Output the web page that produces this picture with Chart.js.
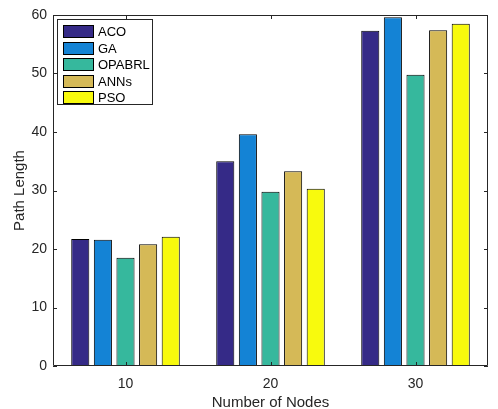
<!DOCTYPE html>
<html>
<head>
<meta charset="utf-8">
<script src="https://cdn.jsdelivr.net/npm/chart.js@4.4.4/dist/chart.umd.min.js"></script>
<style>
  html, body { margin: 0; padding: 0; background: #fff; }
  #wrap { width: 498px; height: 409px; }
</style>
</head>
<body>
<div id="wrap"><canvas id="c" width="498" height="409"></canvas></div>
<script>
// values
const nodes = ['10', '20', '30'];
const methods = ['ACO', 'GA', 'OPABRL', 'ANNs', 'PSO'];
const aco = [21.7, 35.0, 57.3];
const ga = [21.6, 39.6, 59.6];
const opabrl = [18.5, 29.8, 49.8];
const anns = [20.8, 33.3, 57.4];
const pso = [22.1, 30.3, 58.5];
const yTicks = [0, 10, 20, 30, 40, 50, 60];

const colors = ['#352a87', '#1483d5', '#36b89d', '#d5b957', '#f8fa0d'];
const series = [aco, ga, opabrl, anns, pso];
const FONT = "'Liberation Sans', Arial, sans-serif";

// MATLAB-ish box: top/right edges, inward ticks, legend drawn inside the axes
const boxPlugin = {
  id: 'box',
  afterDraw(chart) {
    const { ctx, chartArea: a, scales } = chart;
    ctx.save();
    ctx.strokeStyle = '#262626';
    ctx.lineWidth = 1;
    ctx.beginPath();
    ctx.rect(a.left + 0.5, a.top + 0.5, a.right - a.left - 1, a.bottom - a.top - 1);
    ctx.stroke();
    const t = 4;
    ctx.beginPath();
    yTicks.forEach(v => {
      const y = Math.round(scales.y.getPixelForValue(v)) + 0.5;
      ctx.moveTo(a.left, y); ctx.lineTo(a.left + t, y);
      ctx.moveTo(a.right, y); ctx.lineTo(a.right - t, y);
    });
    nodes.forEach((n, i) => {
      const x = Math.round(scales.x.getPixelForTick(i)) + 0.5;
      ctx.moveTo(x, a.bottom); ctx.lineTo(x, a.bottom - t);
      ctx.moveTo(x, a.top); ctx.lineTo(x, a.top + t);
    });
    ctx.stroke();

    // legend
    const lx = 57, ly = 19, lw = 95, lh = 85;
    ctx.fillStyle = '#fff';
    ctx.fillRect(lx, ly, lw, lh);
    ctx.strokeStyle = '#262626';
    ctx.strokeRect(lx + 0.5, ly + 0.5, lw, lh);
    ctx.font = '13px ' + FONT;
    ctx.textBaseline = 'middle';
    chart.data.datasets.forEach((ds, i) => {
      const cy = Math.round(ly + 12 + i * 16.5);
      ctx.fillStyle = ds.backgroundColor;
      ctx.fillRect(lx + 6, cy - 6, 31, 13);
      ctx.strokeStyle = '#000';
      ctx.strokeRect(lx + 6.5, cy - 5.5, 30, 12);
      ctx.fillStyle = '#000';
      ctx.fillText(ds.label, lx + 41, cy + 1);
    });
    ctx.restore();
  }
};

new Chart(document.getElementById('c'), {
  type: 'bar',
  data: {
    labels: nodes,
    datasets: methods.map((m, i) => ({
      label: m,
      data: series[i],
      backgroundColor: colors[i],
      borderColor: '#000',
      borderWidth: 1,
      barPercentage: 0.8,
      categoryPercentage: 0.78
    }))
  },
  options: {
    responsive: false,
    animation: false,
    layout: { padding: { top: 15, right: 10, left: 0, bottom: 0 } },
    plugins: { legend: { display: false }, tooltip: { enabled: false } },
    scales: {
      x: {
        grid: { display: false, drawTicks: false },
        border: { display: false },
        ticks: { color: '#262626', font: { family: FONT, size: 14 }, padding: 10 },
        title: { display: true, text: 'Number of Nodes', color: '#262626', font: { family: FONT, size: 15 }, padding: { top: 0, bottom: -3 } },
        afterFit: s => { s.height = 43; }
      },
      y: {
        min: 0,
        max: 60,
        grid: { display: false, drawTicks: false },
        border: { display: false },
        afterBuildTicks: s => { s.ticks = yTicks.map(v => ({ value: v })); },
        ticks: { color: '#262626', font: { family: FONT, size: 14 }, padding: 6 },
        title: { display: true, text: 'Path Length', color: '#262626', font: { family: FONT, size: 15 }, padding: { top: 11, bottom: 0 } },
        afterFit: s => { s.width = 53; }
      }
    }
  },
  plugins: [boxPlugin]
});
</script>
</body>
</html>
